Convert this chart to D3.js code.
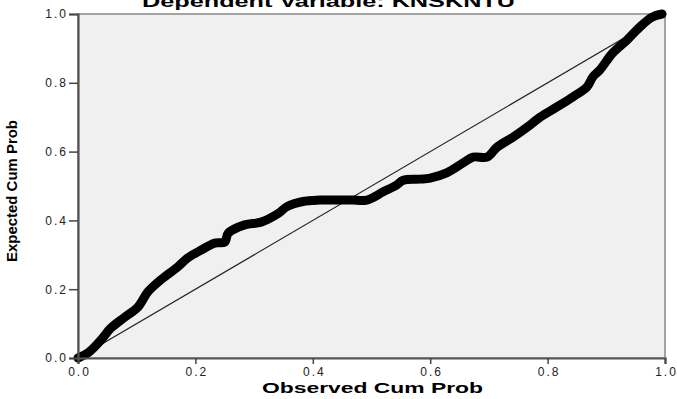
<!DOCTYPE html>
<html lang="en">
<head>
    <meta charset="UTF-8">
    <title>Normal P-P Plot</title>
    <script src="https://d3js.org/d3.v7.min.js"></script>
    <style>
        body { margin: 0; background: #fff; }
        text { font-family: "Liberation Sans", Arial, sans-serif; }
    </style>
</head>
<body>
<div id="chart"></div>
<script>
    // observed vs expected cumulative probability
    let observed = [0, 0.017, 0.039, 0.056, 0.080, 0.102, 0.119, 0.141, 0.170, 0.187, 0.21, 0.233, 0.25, 0.256,
            0.284, 0.312, 0.341, 0.356, 0.383, 0.412, 0.446, 0.468, 0.492, 0.52, 0.543, 0.554, 0.583, 0.60,
            0.628, 0.656, 0.673, 0.697, 0.714, 0.741, 0.77, 0.787, 0.816, 0.843, 0.867, 0.877, 0.889, 0.911,
            0.935, 0.957, 0.978, 0.995],
        expected = [0, 0.015, 0.052, 0.087, 0.119, 0.148, 0.192, 0.227, 0.265, 0.291, 0.314, 0.334, 0.337, 0.363,
            0.387, 0.395, 0.42, 0.44, 0.455, 0.459, 0.459, 0.459, 0.459, 0.483, 0.503, 0.517, 0.52, 0.523,
            0.538, 0.567, 0.584, 0.584, 0.613, 0.642, 0.677, 0.70, 0.73, 0.759, 0.788, 0.817, 0.837, 0.887,
            0.924, 0.962, 0.991, 1.0],
        ticks = [0, 0.2, 0.4, 0.6, 0.8, 1.0],
        title = "Dependent Variable: KNSKNTU",
        xTitle = "Observed Cum Prob",
        yTitle = "Expected Cum Prob";

    let W = 677, H = 399,
        pLeft = 78, pRight = 665, pTop = 14, pBottom = 358;

    let svg = d3.select('#chart').append('svg').attr('width', W).attr('height', H);

    let x = d3.scaleLinear().domain([0, 1]).range([pLeft, pRight]),
        y = d3.scaleLinear().domain([0, 1]).range([pBottom, pTop]);

    // plot background
    svg.append('rect').attr('x', pLeft).attr('y', pTop)
        .attr('width', pRight - pLeft).attr('height', pBottom - pTop)
        .attr('fill', '#f0f0f0').attr('stroke', '#888').attr('stroke-width', 1.5);

    // title, cut at the top edge as in the original
    svg.append('text').attr('x', 142).attr('y', 7)
        .attr('font-size', 16).attr('font-weight', 'bold')
        .attr('textLength', 373).attr('lengthAdjust', 'spacingAndGlyphs')
        .text(title);

    // reference diagonal
    svg.append('line')
        .attr('x1', x(0)).attr('y1', y(0)).attr('x2', x(1)).attr('y2', y(1))
        .attr('stroke', '#222').attr('stroke-width', 1.2);

    // the P-P curve
    let pts = observed.map((d, i) => [d, expected[i]]);
    svg.append('path')
        .attr('d', d3.line().x(d => x(d[0])).y(d => y(d[1])).curve(d3.curveCatmullRom)(pts))
        .attr('fill', 'none').attr('stroke', '#000').attr('stroke-width', 9)
        .attr('stroke-linejoin', 'round').attr('stroke-linecap', 'round');

    // axes
    let xAxis = svg.append('g').attr('transform', 'translate(0,' + pBottom + ')')
        .call(d3.axisBottom(x).tickValues(ticks).tickFormat(d3.format('.1f')).tickSize(6).tickPadding(1));
    let yAxis = svg.append('g').attr('transform', 'translate(' + pLeft + ',0)')
        .call(d3.axisLeft(y).tickValues(ticks).tickFormat(d3.format('.1f')).tickSize(9).tickPadding(1));

    [xAxis, yAxis].forEach(a => {
        a.select('.domain').attr('stroke', '#555').attr('stroke-width', 2.2);
        a.selectAll('.tick line').attr('stroke', '#444').attr('stroke-width', 1.5);
        a.selectAll('.tick text').attr('font-size', 12).attr('fill', '#222')
            .attr('font-family', '"Liberation Sans", Arial, sans-serif')
            .style('letter-spacing', '2px');
    });
    xAxis.selectAll('.tick text').attr('dy', '0.9em').attr('dx', 1);

    // axis titles
    svg.append('text').attr('x', 262).attr('y', 393)
        .attr('font-size', 14).attr('font-weight', 'bold')
        .attr('textLength', 221).attr('lengthAdjust', 'spacingAndGlyphs')
        .text(xTitle);
    svg.append('text').attr('transform', 'translate(17,262) rotate(-90)')
        .attr('font-size', 15).attr('font-weight', 'bold')
        .attr('textLength', 142).attr('lengthAdjust', 'spacingAndGlyphs')
        .text(yTitle);
</script>
</body>
</html>
